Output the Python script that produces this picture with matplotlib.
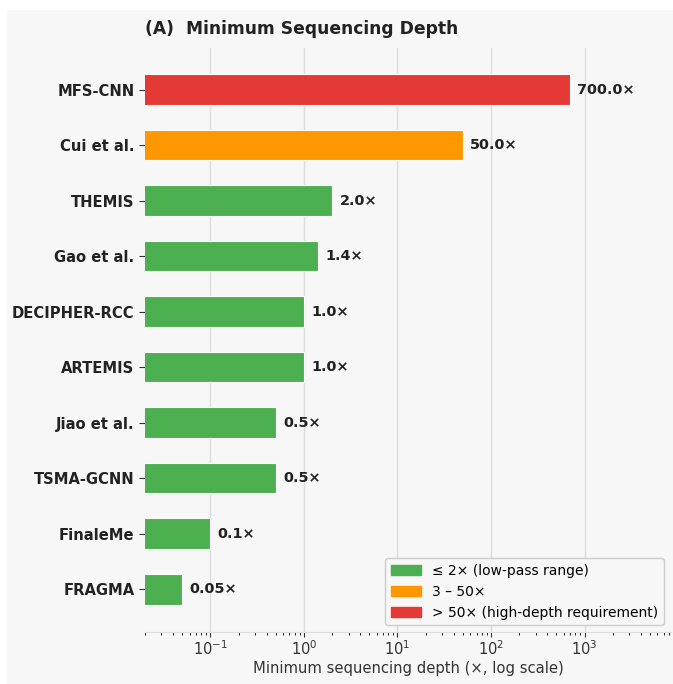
import matplotlib.pyplot as plt
from matplotlib.patches import Patch, Rectangle

# data (bottom to top)
methods = ['FRAGMA', 'FinaleMe', 'TSMA-GCNN', 'Jiao et al.', 'ARTEMIS',
           'DECIPHER-RCC', 'Gao et al.', 'THEMIS', 'Cui et al.', 'MFS-CNN']
depths = [0.05, 0.1, 0.5, 0.5, 1.0, 1.0, 1.4, 2.0, 50.0, 700.0]
labels = ['0.05×', '0.1×', '0.5×', '0.5×', '1.0×', '1.0×', '1.4×', '2.0×', '50.0×', '700.0×']

GREEN, ORANGE, RED = '#4caf50', '#ff9800', '#e53935'
BG = '#f7f7f7'


def depth_color(d):
    if d <= 2:
        return GREEN
    if d <= 50:
        return ORANGE
    return RED


fig = plt.figure(figsize=(6.73, 6.84), dpi=100, facecolor='white')
fig.patches.append(Rectangle((7 / 673, 0), 1, 1 - 10 / 684, transform=fig.transFigure,
                             facecolor=BG, edgecolor='none', zorder=-1))
ax = fig.add_axes([145 / 673, (684 - 632) / 684, (671 - 145) / 673, (632 - 48) / 684])
ax.set_facecolor(BG)

ypos = list(range(len(methods)))
ax.barh(ypos, depths, height=0.55, color=[depth_color(d) for d in depths],
        edgecolor='white', linewidth=0.8, zorder=3)
for y, d, lab in zip(ypos, depths, labels):
    ax.text(d * 1.2, y, lab, va='center', ha='left', fontsize=10.4,
            fontweight='bold', color='#222222', zorder=4)

ax.set_xscale('log')
ax.set_xlim(0.02, 8400)
ax.set_ylim(-0.77, 9.75)
ax.set_yticks(ypos)
ax.set_yticklabels(methods, fontsize=10.6, fontweight='bold', color='#222222')
ax.tick_params(axis='x', labelsize=10.6, colors='#333333', pad=2)
ax.tick_params(axis='y', length=4, color='#333333')
ax.grid(axis='x', which='major', color='#dddddd', linewidth=1.0, zorder=0)
for s in ['top', 'right', 'left']:
    ax.spines[s].set_visible(False)
ax.spines['bottom'].set_color('#dddddd')

ax.set_xlabel('Minimum sequencing depth (×, log scale)', fontsize=10.6,
              color='#333333', labelpad=2)
ax.set_title('(A)  Minimum Sequencing Depth', loc='left', fontsize=12.3,
             fontweight='bold', color='#222222', pad=10)

handles = [Patch(color=GREEN, label='≤ 2× (low-pass range)'),
           Patch(color=ORANGE, label='3 – 50×'),
           Patch(color=RED, label='> 50× (high-depth requirement)')]
leg = ax.legend(handles=handles, loc='lower right', fontsize=10, frameon=True,
                facecolor=BG, edgecolor='#cccccc', framealpha=1.0,
                handlelength=2.2, borderaxespad=0.5)

fig.savefig('out.png', dpi=100, facecolor='white')
